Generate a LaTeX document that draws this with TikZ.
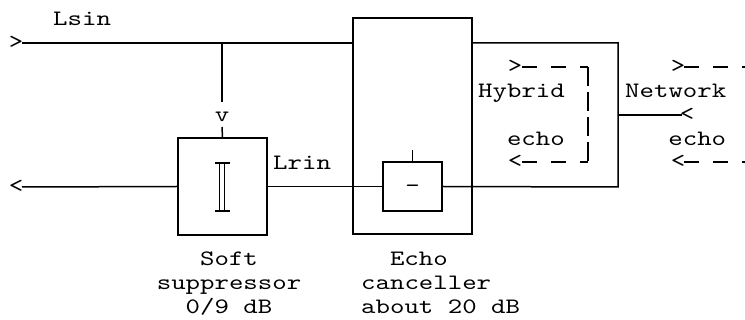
\documentclass[tikz,border=0pt]{standalone}
\usepackage{fontspec}
\newfontfamily\cour{lmmono10-regular}[Extension=.otf, FakeStretch=1.25]
\tikzset{
  txt/.style={font=\cour\fontsize{22}{24}\selectfont, inner sep=0pt, anchor=base west},
  glyph/.style={font=\cour\fontsize{22}{24}\selectfont, inner sep=0pt, anchor=base},
  ln/.style={line width=1.5pt},
  boxst/.style={draw, line width=1.5pt, inner sep=0pt},
  dsh/.style={line width=1.5pt, dash pattern=on 15pt off 14pt},
  vdsh/.style={line width=1.5pt, dash pattern=on 19pt off 6pt}
}
\begin{document}
\begin{tikzpicture}[x=1pt,y=-1pt]
\useasboundingbox (0,0) rectangle (745,320);
% boxes
\node[boxst, minimum width=89pt, minimum height=97pt] (sup) at (222.5,186.5) {};
\node[boxst, minimum width=119pt, minimum height=216pt] (canc) at (412.5,126) {};
\node[boxst, minimum width=59pt, minimum height=49pt] (sub) at (412.5,186.5) {};
\node[glyph] (minus) at (412.5,192.5) {-};
% suppressor symbol
\draw[ln] (215,163) -- (230,163);
\draw[ln] (215,211) -- (230,211);
\draw[line width=1.2pt] (219.5,163) -- (219.5,211);
\draw[line width=1.2pt] (224.5,163) -- (224.5,211);
% glyph arrows
\node[glyph] (gtL) at (16,48.5) {>};
\node[glyph] (ltL) at (16,192.5) {<};
\node[glyph] (gtH) at (515,72.5) {>};
\node[glyph] (ltH) at (515,167.5) {<};
\node[glyph] (gtN) at (678,72.5) {>};
\node[glyph] (ltN) at (678,167.5) {<};
\node[glyph] (ltNet) at (687,120.5) {<};
% coordinates
\coordinate (inL) at (22,43);
\coordinate (tap) at (222,43);
\coordinate (outL) at (22,187);
\coordinate (hbr) at (618,187);
\coordinate (htr) at (618,43);
\coordinate (nl) at (618,115);
\coordinate (nle) at (682,115);
% main lines
\draw[ln] (inL) -- (inL -| canc.west);
\node[glyph] (v) at (222,122) {v};
\draw[ln] (tap) -- (222,102);
\draw[ln] (222,127) -- (sup.north);
\draw[ln] (outL) -- (sup.west);
\draw[ln] (sup.east) -- (sub.west);
\draw[ln] (sub.east) -- (hbr) -- (htr) -- (htr -| canc.east);
\draw[ln] (sub.north) -- ++(0,-11);
\draw[ln] (nl) -- (nle);
% dashed echo paths
\coordinate (h1) at (522,67);
\coordinate (h2) at (588,67);
\coordinate (h3) at (588,162);
\coordinate (h4) at (522,162);
\draw[dsh] (h1) -- (h2);
\draw[vdsh] (h2) -- (h3);
\draw[dsh] (h4) -- (h3);
\coordinate (n1) at (684,67);
\coordinate (n2) at (745,67);
\coordinate (n3) at (684,162);
\coordinate (n4) at (745,162);
\draw[dsh] (n1) -- (n2);
\draw[dsh] (n3) -- (n4);
% labels
\node[txt] (lsin) at (53,26) {Lsin};
\node[txt] (lrin) at (273,170) {Lrin};
\node[txt] (hyb) at (478,98) {Hybrid};
\node[txt] (echo1) at (506.8,146) {echo};
\node[txt] (net) at (625,98) {Network};
\node[txt] (echo2) at (668.2,146) {echo};
\node[glyph] (soft) at (229,266) {Soft};
\node[glyph] (supp) at (229,290) {suppressor};
\node[glyph] (db9) at (229,314) {0/9 dB};
\node[txt] (echo3) at (389.8,266) {Echo};
\node[txt] (canl) at (361,290) {canceller};
\node[txt] (db20) at (361,314) {about 20 dB};
\end{tikzpicture}
\end{document}
